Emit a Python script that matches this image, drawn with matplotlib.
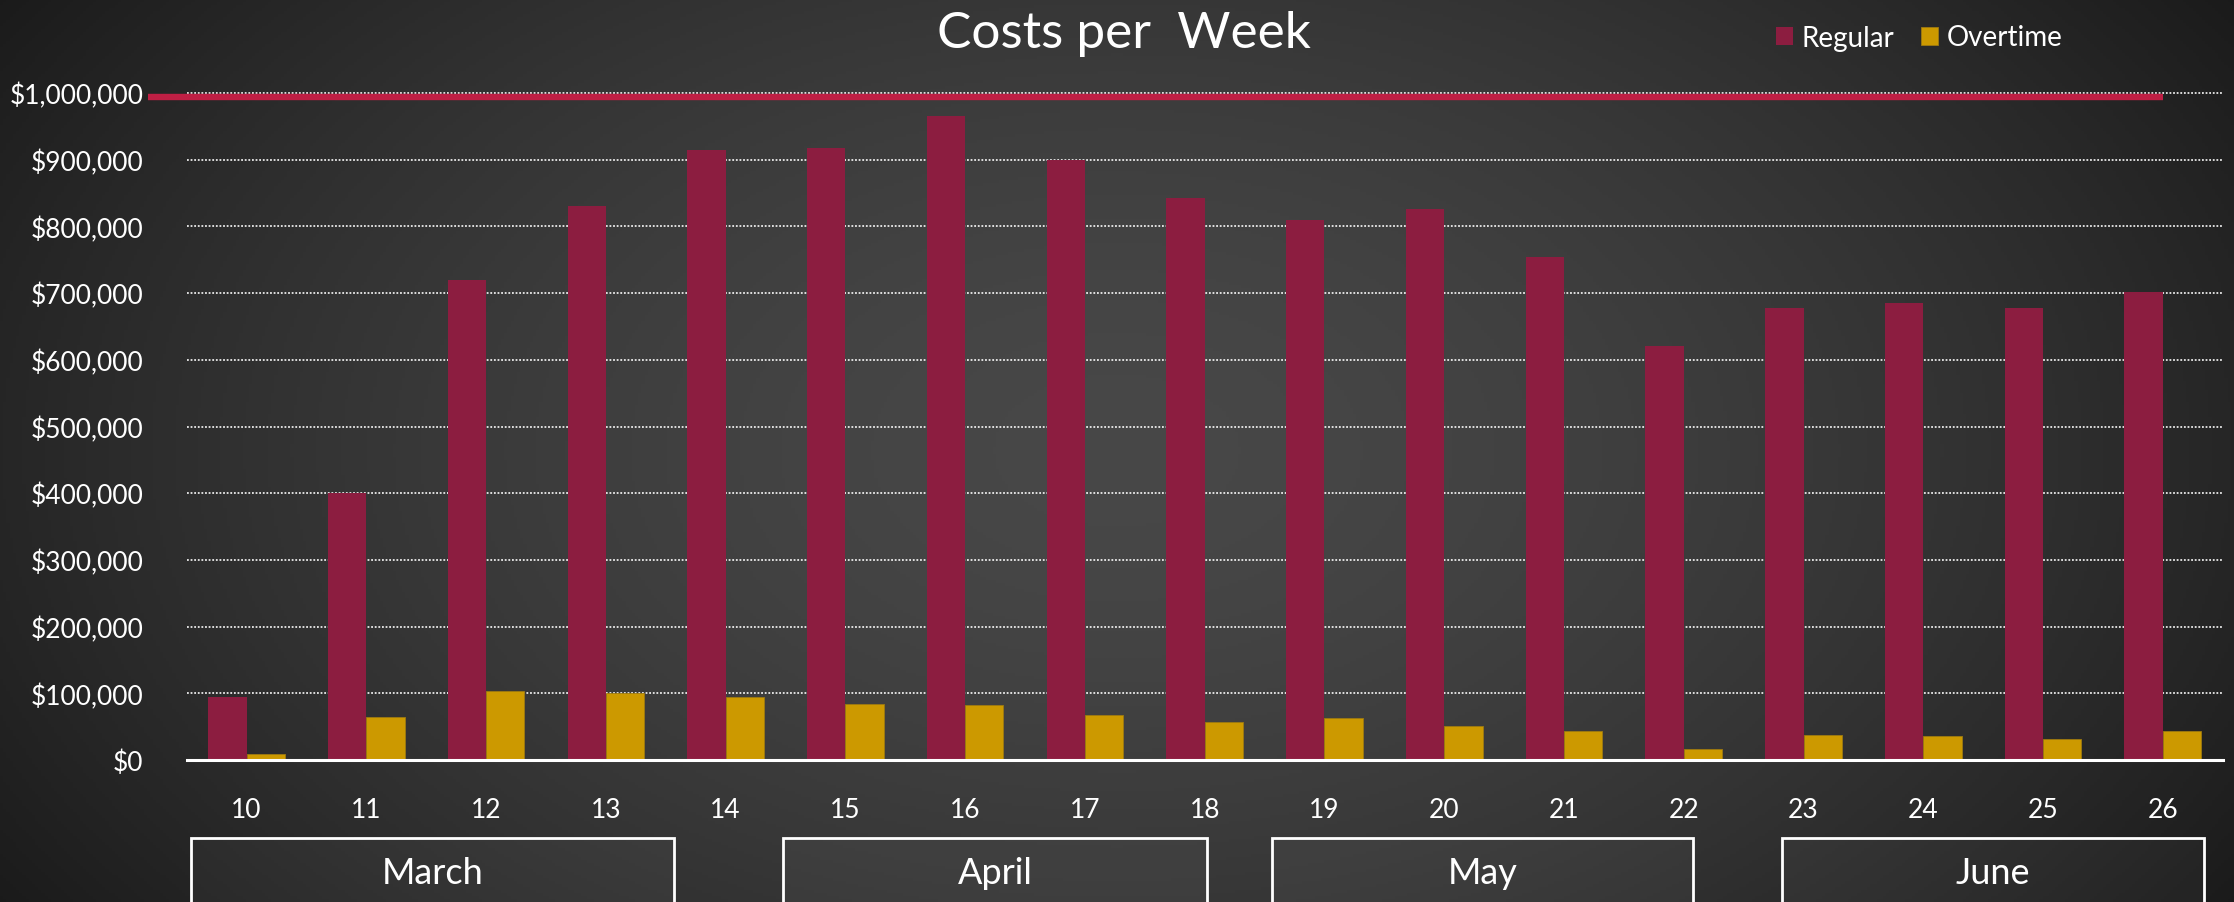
import matplotlib

matplotlib.use("Agg")
import matplotlib.pyplot as plt
import numpy as np
from matplotlib.patches import Rectangle
from matplotlib.ticker import FuncFormatter, MultipleLocator
import matplotlib.transforms as mtransforms

plt.rcParams["font.family"] = ["Lato", "DejaVu Sans"]

WEEKS = ["10", "11", "12", "13", "14", "15", "16", "17", "18",
         "19", "20", "21", "22", "23", "24", "25", "26"]
REGULAR = [95000, 401000, 719000, 830000, 915000, 917000, 966000, 900000, 842000,
           809000, 826000, 754000, 621000, 677000, 685000, 678000, 702000]
OVERTIME = [9000, 65000, 103000, 100000, 95000, 84000, 82000, 68000, 57000,
            63000, 51000, 43000, 16000, 37000, 36000, 32000, 44000]
BUDGET = 994000
MONTHS = ["March", "April", "May", "June"]
# month boxes as category-index spans
MONTH_SPANS = [(-0.46, 3.57), (4.48, 8.02), (8.56, 12.08), (12.82, 16.34)]

C_REG = "#8C1D40"
C_OT = "#CC9900"
C_LINE = "#BF1F44"

W, H = 2234, 903
fig = plt.figure(figsize=(W / 100, H / 100), dpi=100)

# background: soft radial gradient, dark at the edges
bg = fig.add_axes([0, 0, 1, 1], zorder=-10)
yy, xx = np.mgrid[0:1:300j, 0:1:700j]
r = np.sqrt(((xx - 0.5) / 0.62) ** 2 + ((yy - 0.5) / 0.95) ** 2)
t = np.clip(r, 0, 1) ** 1.6
light, dark = 0x48 / 255, 0x18 / 255
img = light + (dark - light) * t
bg.imshow(np.dstack([img] * 3), extent=(0, 1, 0, 1), aspect="auto", origin="lower")
bg.set_axis_off()

ax = fig.add_axes([186.7 / W, 1 - 761 / H, (2222.7 - 186.7) / W, (761 - 94) / H])
ax.set_facecolor("none")

x = np.arange(len(WEEKS))
bw = 0.32
ax.bar(x - bw / 2, REGULAR, bw, color=C_REG, label="Regular", zorder=2)
ax.bar(x + bw / 2, OVERTIME, bw, color=C_OT, edgecolor="#9E7A10", linewidth=0.6,
       label="Overtime", zorder=2)
ax.plot([-0.82, x[-1]], [BUDGET, BUDGET], color=C_LINE, lw=4.6,
        solid_capstyle="butt", clip_on=False, zorder=3)

ax.set_xlim(-0.5, len(WEEKS) - 0.5)
ax.set_ylim(0, 1000000)
ax.yaxis.set_major_locator(MultipleLocator(100000))
ax.yaxis.set_major_formatter(FuncFormatter(lambda v, _: f"${v:,.0f}"))
ax.set_xticks(x)
ax.set_xticklabels(WEEKS)
ax.tick_params(axis="both", length=0, colors="white", labelsize=19)
ax.tick_params(axis="y", pad=31)
ax.tick_params(axis="x", pad=27)

ax.set_axisbelow(True)
ax.grid(axis="y", color="white", lw=1.3, linestyle=(0, (1, 1)), alpha=0.9)
ax.grid(axis="x", visible=False)
for gl in ax.get_ygridlines():
    gl.set_clip_on(False)
for side in ["top", "right", "left"]:
    ax.spines[side].set_visible(False)
ax.spines["bottom"].set_color("white")
ax.spines["bottom"].set_linewidth(2.2)
ax.spines["bottom"].set_zorder(4)

# month boxes under the week labels
trans = mtransforms.blended_transform_factory(ax.transData, fig.transFigure)
box_top = 1 - 839 / H
for name, (x0, x1) in zip(MONTHS, MONTH_SPANS):
    ax.add_patch(Rectangle((x0, -0.05), x1 - x0, box_top + 0.05, transform=trans,
                           facecolor=(1, 1, 1, 0.035), edgecolor="white", lw=2.0,
                           clip_on=False))
    ax.text((x0 + x1) / 2, 1 - 874 / H, name, transform=trans, ha="center",
            va="center", color="white", fontsize=26)

fig.text(0.503, 1 - 48 / H, "Costs per  Week", ha="center", va="baseline",
         color="white", fontsize=37)

ax.legend(loc="center left", bbox_to_anchor=(1776 / W, 1 - 38.5 / H),
          bbox_transform=fig.transFigure, ncol=2, frameon=False, fontsize=20,
          labelcolor="white", handlelength=0.62, handleheight=0.62,
          handletextpad=0.3, columnspacing=0.95, borderpad=0, borderaxespad=0)

fig.savefig("out.png", dpi=100)
